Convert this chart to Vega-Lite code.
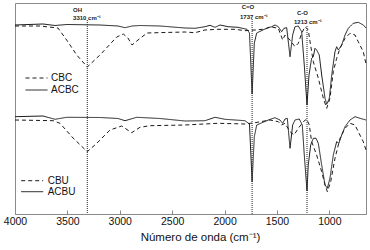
{
  "$schema": "https://vega.github.io/schema/vega-lite/v6.json",
  "width": 351,
  "height": 211,
  "autosize": {"type": "none"},
  "padding": {"left": 15, "top": 3, "right": 4, "bottom": 36},
  "background": "white",
  "config": {
    "view": {"stroke": "#8a8a8a", "strokeWidth": 1},
    "font": "Liberation Sans",
    "legend": {"labelFont": "Liberation Sans", "labelFontSize": 10, "labelColor": "#111"}
  },
  "layer": [
    {
      "data": {"values": [
        {"wn": 4000, "t": 189, "s": "ACBC"}, {"wn": 3733, "t": 190, "s": "ACBC"}, {"wn": 3618, "t": 188.5, "s": "ACBC"}, {"wn": 3504, "t": 189.5, "s": "ACBC"},
        {"wn": 3189, "t": 189, "s": "ACBC"}, {"wn": 3017, "t": 188, "s": "ACBC"}, {"wn": 2950, "t": 186.3, "s": "ACBC"}, {"wn": 2883, "t": 188, "s": "ACBC"},
        {"wn": 2807, "t": 188.5, "s": "ACBC"}, {"wn": 2616, "t": 188, "s": "ACBC"}, {"wn": 2378, "t": 186, "s": "ACBC"}, {"wn": 2282, "t": 185.7, "s": "ACBC"},
        {"wn": 2187, "t": 187.3, "s": "ACBC"}, {"wn": 2139, "t": 188.7, "s": "ACBC"}, {"wn": 2091, "t": 186.7, "s": "ACBC"}, {"wn": 2043, "t": 189, "s": "ACBC"},
        {"wn": 1967, "t": 187.3, "s": "ACBC"}, {"wn": 1872, "t": 186.7, "s": "ACBC"}, {"wn": 1786, "t": 184.7, "s": "ACBC"}, {"wn": 1762, "t": 181, "s": "ACBC"},
        {"wn": 1737, "t": 120, "s": "ACBC"}, {"wn": 1716, "t": 171, "s": "ACBC"}, {"wn": 1693, "t": 181, "s": "ACBC"}, {"wn": 1614, "t": 185, "s": "ACBC"},
        {"wn": 1550, "t": 187.3, "s": "ACBC"}, {"wn": 1519, "t": 189, "s": "ACBC"}, {"wn": 1487, "t": 187.3, "s": "ACBC"}, {"wn": 1455, "t": 182.3, "s": "ACBC"},
        {"wn": 1433, "t": 185.7, "s": "ACBC"}, {"wn": 1407, "t": 186.3, "s": "ACBC"}, {"wn": 1375, "t": 157.3, "s": "ACBC"}, {"wn": 1350, "t": 179, "s": "ACBC"},
        {"wn": 1328, "t": 187.3, "s": "ACBC"}, {"wn": 1296, "t": 188, "s": "ACBC"}, {"wn": 1264, "t": 182.3, "s": "ACBC"}, {"wn": 1239, "t": 149, "s": "ACBC"},
        {"wn": 1213, "t": 109, "s": "ACBC"}, {"wn": 1194, "t": 139, "s": "ACBC"}, {"wn": 1169, "t": 155.7, "s": "ACBC"}, {"wn": 1153, "t": 157.3, "s": "ACBC"},
        {"wn": 1137, "t": 165.7, "s": "ACBC"}, {"wn": 1121, "t": 164, "s": "ACBC"}, {"wn": 1096, "t": 159, "s": "ACBC"}, {"wn": 1073, "t": 139, "s": "ACBC"},
        {"wn": 1041, "t": 115.7, "s": "ACBC"}, {"wn": 1025, "t": 109.7, "s": "ACBC"}, {"wn": 1000, "t": 115.7, "s": "ACBC"}, {"wn": 977, "t": 139, "s": "ACBC"},
        {"wn": 946, "t": 162.3, "s": "ACBC"}, {"wn": 930, "t": 167.3, "s": "ACBC"}, {"wn": 914, "t": 164, "s": "ACBC"}, {"wn": 882, "t": 169, "s": "ACBC"},
        {"wn": 850, "t": 179, "s": "ACBC"}, {"wn": 819, "t": 185.7, "s": "ACBC"}, {"wn": 771, "t": 190.7, "s": "ACBC"}, {"wn": 724, "t": 191.7, "s": "ACBC"},
        {"wn": 676, "t": 189, "s": "ACBC"}, {"wn": 650, "t": 186, "s": "ACBC"},
        {"wn": 4000, "t": 188, "s": "CBC"}, {"wn": 3761, "t": 188, "s": "CBC"}, {"wn": 3590, "t": 186, "s": "CBC"}, {"wn": 3507, "t": 174, "s": "CBC"},
        {"wn": 3411, "t": 159, "s": "CBC"}, {"wn": 3310, "t": 147, "s": "CBC"}, {"wn": 3189, "t": 159, "s": "CBC"}, {"wn": 3029, "t": 177, "s": "CBC"},
        {"wn": 2966, "t": 180, "s": "CBC"}, {"wn": 2922, "t": 176, "s": "CBC"}, {"wn": 2883, "t": 169, "s": "CBC"}, {"wn": 2826, "t": 174, "s": "CBC"},
        {"wn": 2740, "t": 181, "s": "CBC"}, {"wn": 2568, "t": 181.5, "s": "CBC"}, {"wn": 2378, "t": 182, "s": "CBC"}, {"wn": 2282, "t": 181.3, "s": "CBC"},
        {"wn": 2187, "t": 184, "s": "CBC"}, {"wn": 2063, "t": 184.7, "s": "CBC"}, {"wn": 1900, "t": 184.7, "s": "CBC"}, {"wn": 1805, "t": 183.3, "s": "CBC"},
        {"wn": 1709, "t": 184, "s": "CBC"}, {"wn": 1614, "t": 185, "s": "CBC"}, {"wn": 1566, "t": 187.3, "s": "CBC"}, {"wn": 1487, "t": 185.7, "s": "CBC"},
        {"wn": 1445, "t": 174, "s": "CBC"}, {"wn": 1423, "t": 179, "s": "CBC"}, {"wn": 1375, "t": 174, "s": "CBC"}, {"wn": 1328, "t": 167.3, "s": "CBC"},
        {"wn": 1296, "t": 170.7, "s": "CBC"}, {"wn": 1264, "t": 180.7, "s": "CBC"}, {"wn": 1232, "t": 187.3, "s": "CBC"}, {"wn": 1201, "t": 184, "s": "CBC"},
        {"wn": 1184, "t": 172.3, "s": "CBC"}, {"wn": 1153, "t": 152.3, "s": "CBC"}, {"wn": 1105, "t": 135.7, "s": "CBC"}, {"wn": 1057, "t": 115.7, "s": "CBC"},
        {"wn": 1025, "t": 105.7, "s": "CBC"}, {"wn": 994, "t": 115.7, "s": "CBC"}, {"wn": 962, "t": 142.3, "s": "CBC"}, {"wn": 930, "t": 155.7, "s": "CBC"},
        {"wn": 898, "t": 165.7, "s": "CBC"}, {"wn": 850, "t": 175.7, "s": "CBC"}, {"wn": 803, "t": 180.7, "s": "CBC"}, {"wn": 755, "t": 179, "s": "CBC"},
        {"wn": 724, "t": 172.3, "s": "CBC"}, {"wn": 676, "t": 162.3, "s": "CBC"}, {"wn": 650, "t": 150, "s": "CBC"}
      ]},
      "mark": {"type": "line", "color": "#1a1a1a", "strokeWidth": 1},
      "encoding": {
        "x": {"field": "wn", "type": "quantitative", "scale": {"domain": [650, 4000], "reverse": true, "nice": false, "zero": false},
          "axis": {"values": [1000, 1500, 2000, 2500, 3000, 3500, 4000],
            "format": "d", "labelOverlap": false, "orient": "bottom",
            "grid": false, "tickSize": -4, "tickColor": "#8a8a8a", "domainColor": "#8a8a8a",
            "labelFontSize": 10.5, "labelColor": "#111", "labelPadding": 6.5, "labelFlush": false,
            "title": "Número de onda (cm⁻¹)", "titleFontSize": 11.5, "titleFontWeight": "normal", "titleColor": "#111",
            "titlePadding": 4, "titleX": 185}},
        "y": {"field": "t", "type": "quantitative", "scale": {"domain": [0, 211], "nice": false, "zero": false}, "axis": null},
        "strokeDash": {"field": "s", "type": "nominal",
          "scale": {"domain": ["CBC", "ACBC"], "range": [[4, 3], [1, 0]]},
          "legend": {"title": null, "orient": "none", "legendX": 15.5, "legendY": 69, "symbolSize": 121, "symbolStrokeWidth": 1, "symbolStrokeColor": "#1a1a1a", "symbolFillColor": "transparent", "symbolType": "M-2,0H2", "rowPadding": 1, "labelOffset": 8.5}}
      }
    },
    {
      "data": {"values": [
        {"wn": 4000, "t": 97.3, "s": "ACBU"}, {"wn": 3733, "t": 98, "s": "ACBU"}, {"wn": 3618, "t": 94.7, "s": "ACBU"}, {"wn": 3507, "t": 96.7, "s": "ACBU"},
        {"wn": 3189, "t": 96.5, "s": "ACBU"}, {"wn": 3017, "t": 95.5, "s": "ACBU"}, {"wn": 2950, "t": 93.3, "s": "ACBU"}, {"wn": 2838, "t": 96.7, "s": "ACBU"},
        {"wn": 2616, "t": 95.5, "s": "ACBU"}, {"wn": 2378, "t": 93, "s": "ACBU"}, {"wn": 2187, "t": 93.3, "s": "ACBU"}, {"wn": 2091, "t": 96.7, "s": "ACBU"},
        {"wn": 1996, "t": 94.7, "s": "ACBU"}, {"wn": 1805, "t": 93.3, "s": "ACBU"}, {"wn": 1762, "t": 90, "s": "ACBU"}, {"wn": 1737, "t": 32.3, "s": "ACBU"},
        {"wn": 1716, "t": 77.3, "s": "ACBU"}, {"wn": 1693, "t": 89, "s": "ACBU"}, {"wn": 1582, "t": 94, "s": "ACBU"}, {"wn": 1519, "t": 96.3, "s": "ACBU"},
        {"wn": 1471, "t": 94, "s": "ACBU"}, {"wn": 1445, "t": 90.7, "s": "ACBU"}, {"wn": 1423, "t": 95, "s": "ACBU"}, {"wn": 1401, "t": 95.7, "s": "ACBU"},
        {"wn": 1375, "t": 65.7, "s": "ACBU"}, {"wn": 1350, "t": 89, "s": "ACBU"}, {"wn": 1328, "t": 94, "s": "ACBU"}, {"wn": 1287, "t": 95, "s": "ACBU"},
        {"wn": 1258, "t": 89, "s": "ACBU"}, {"wn": 1239, "t": 59, "s": "ACBU"}, {"wn": 1213, "t": 23, "s": "ACBU"}, {"wn": 1201, "t": 49, "s": "ACBU"},
        {"wn": 1178, "t": 69, "s": "ACBU"}, {"wn": 1153, "t": 75.7, "s": "ACBU"}, {"wn": 1127, "t": 75.7, "s": "ACBU"}, {"wn": 1105, "t": 70.7, "s": "ACBU"},
        {"wn": 1073, "t": 49, "s": "ACBU"}, {"wn": 1041, "t": 29, "s": "ACBU"}, {"wn": 1019, "t": 25.7, "s": "ACBU"}, {"wn": 994, "t": 35.7, "s": "ACBU"},
        {"wn": 962, "t": 59, "s": "ACBU"}, {"wn": 930, "t": 72.3, "s": "ACBU"}, {"wn": 908, "t": 70.7, "s": "ACBU"}, {"wn": 882, "t": 79, "s": "ACBU"},
        {"wn": 850, "t": 87.3, "s": "ACBU"}, {"wn": 803, "t": 94, "s": "ACBU"}, {"wn": 755, "t": 97.3, "s": "ACBU"}, {"wn": 707, "t": 95.7, "s": "ACBU"},
        {"wn": 650, "t": 94, "s": "ACBU"},
        {"wn": 4000, "t": 94, "s": "CBU"}, {"wn": 3637, "t": 93.3, "s": "CBU"}, {"wn": 3571, "t": 90.7, "s": "CBU"}, {"wn": 3446, "t": 76, "s": "CBU"},
        {"wn": 3310, "t": 62.3, "s": "CBU"}, {"wn": 3220, "t": 70.7, "s": "CBU"}, {"wn": 3093, "t": 84, "s": "CBU"}, {"wn": 2982, "t": 88, "s": "CBU"},
        {"wn": 2886, "t": 81.3, "s": "CBU"}, {"wn": 2807, "t": 86.7, "s": "CBU"}, {"wn": 2712, "t": 88.3, "s": "CBU"}, {"wn": 2378, "t": 89, "s": "CBU"},
        {"wn": 2063, "t": 90.7, "s": "CBU"}, {"wn": 1805, "t": 90, "s": "CBU"}, {"wn": 1709, "t": 91.3, "s": "CBU"}, {"wn": 1566, "t": 94, "s": "CBU"},
        {"wn": 1487, "t": 92.3, "s": "CBU"}, {"wn": 1455, "t": 89, "s": "CBU"}, {"wn": 1423, "t": 90.7, "s": "CBU"}, {"wn": 1375, "t": 82.3, "s": "CBU"},
        {"wn": 1337, "t": 79, "s": "CBU"}, {"wn": 1296, "t": 85.7, "s": "CBU"}, {"wn": 1248, "t": 92.3, "s": "CBU"}, {"wn": 1216, "t": 95, "s": "CBU"},
        {"wn": 1191, "t": 89, "s": "CBU"}, {"wn": 1169, "t": 72.3, "s": "CBU"}, {"wn": 1121, "t": 59, "s": "CBU"}, {"wn": 1073, "t": 42.3, "s": "CBU"},
        {"wn": 1041, "t": 29, "s": "CBU"}, {"wn": 1019, "t": 22.3, "s": "CBU"}, {"wn": 987, "t": 32.3, "s": "CBU"}, {"wn": 946, "t": 55.7, "s": "CBU"},
        {"wn": 898, "t": 75.7, "s": "CBU"}, {"wn": 850, "t": 85.7, "s": "CBU"}, {"wn": 803, "t": 90.7, "s": "CBU"}, {"wn": 755, "t": 89, "s": "CBU"},
        {"wn": 724, "t": 82.3, "s": "CBU"}, {"wn": 676, "t": 72.3, "s": "CBU"}, {"wn": 650, "t": 64, "s": "CBU"}
      ]},
      "mark": {"type": "line", "color": "#1a1a1a", "strokeWidth": 1},
      "encoding": {
        "x": {"field": "wn", "type": "quantitative"},
        "y": {"field": "t", "type": "quantitative"},
        "strokeDash": {"field": "s", "type": "nominal",
          "scale": {"domain": ["CBU", "ACBU"], "range": [[4, 3], [1, 0]]},
          "legend": {"title": null, "orient": "none", "legendX": 11.2, "legendY": 171.7, "symbolSize": 121, "symbolStrokeWidth": 1, "symbolStrokeColor": "#1a1a1a", "symbolFillColor": "transparent", "symbolType": "M-2,0H2", "rowPadding": 0, "labelOffset": 9.5}}
      }
    },
    {
      "data": {"values": [
        {"wn": 3310, "top": 194},
        {"wn": 1737, "top": 195},
        {"wn": 1213, "top": 188}
      ]},
      "mark": {"type": "rule", "color": "#222", "strokeWidth": 1, "strokeDash": [1, 1]},
      "encoding": {
        "x": {"field": "wn", "type": "quantitative"},
        "y": {"field": "top", "type": "quantitative"},
        "y2": {"datum": 0}
      }
    },
    {
      "data": {"values": [
        {"wn": 3446, "t": 204, "label": "OH"},
        {"wn": 3446, "t": 196.5, "label": "3310 cm⁻¹"},
        {"wn": 1836, "t": 207.3, "label": "C=O"},
        {"wn": 1853, "t": 197.3, "label": "1737 cm⁻¹"},
        {"wn": 1309, "t": 200.7, "label": "C-O"},
        {"wn": 1337, "t": 192.3, "label": "1213 cm⁻¹"}
      ]},
      "mark": {"type": "text", "align": "left", "baseline": "middle", "fontSize": 6, "fontWeight": "bold", "color": "#222", "font": "Liberation Sans"},
      "encoding": {
        "x": {"field": "wn", "type": "quantitative"},
        "y": {"field": "t", "type": "quantitative"},
        "text": {"field": "label"}
      }
    }
  ],
  "resolve": {"scale": {"strokeDash": "independent"}, "legend": {"strokeDash": "independent"}}
}
